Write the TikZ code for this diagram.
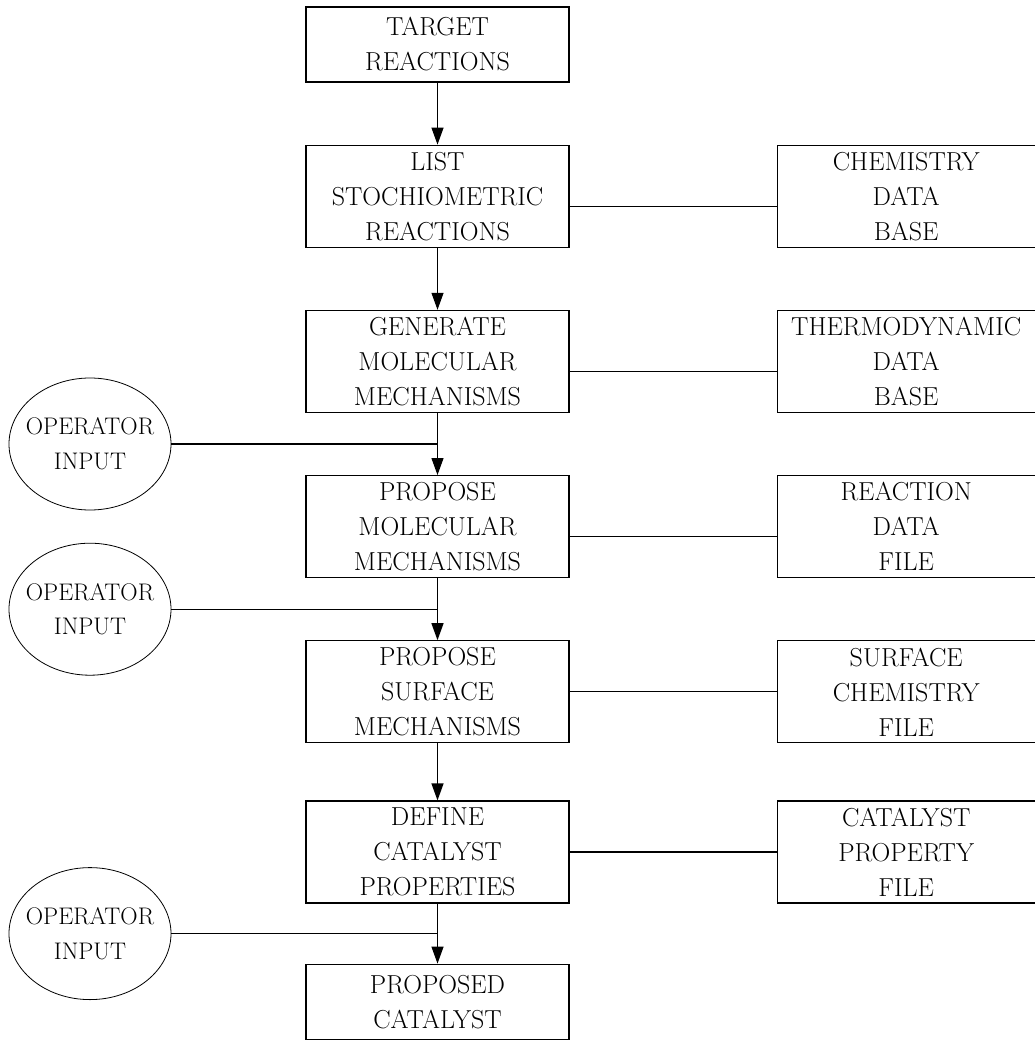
\documentclass[tikz,border=0pt]{standalone}
\usetikzlibrary{arrows.meta,shapes,positioning,calc}

\begin{document}
\begin{tikzpicture}
            [x=1pt,y=-1pt,>={Triangle[length=17pt,width=12pt]},line width=1.2pt,
             node distance=62pt,
             every node/.style={font=\fontsize{26}{35}\selectfont,align=center},
             procbox/.style={rectangle,draw,minimum width=263pt,minimum height=102pt,inner sep=0pt},
             filebox/.style={rectangle,draw,minimum width=258pt,minimum height=102pt,inner sep=0pt},
             opnode/.style={ellipse,draw,line width=0.8pt,minimum width=162pt,minimum height=132pt,
                            inner xsep=-16pt,inner ysep=0pt,font=\fontsize{24}{35}\selectfont}]

            \useasboundingbox (0,0) rectangle (1035,1041);

            % main column
            \node (target) [procbox,minimum height=75pt] at (437.5,44.5) {TARGET\\REACTIONS};
            \node (list) [procbox,below=of target] {LIST\\STOCHIOMETRIC\\REACTIONS};
            \node (gen) [procbox,below=of list] {GENERATE\\MOLECULAR\\MECHANISMS};
            \node (propmol) [procbox,below=of gen] {PROPOSE\\MOLECULAR\\MECHANISMS};
            \node (propsurf) [procbox,below=of propmol] {PROPOSE\\SURFACE\\MECHANISMS};
            \node (define) [procbox,below=57pt of propsurf] {DEFINE\\CATALYST\\PROPERTIES};
            \node (proposed) [procbox,minimum height=75pt,below=60pt of define] {PROPOSED\\CATALYST};

            % files
            \node (chem) [filebox,right=207pt of list] {CHEMISTRY\\DATA\\BASE};
            \node (thermo) [filebox,right=207pt of gen] {THERMODYNAMIC\\DATA\\BASE};
            \node (react) [filebox,right=207pt of propmol] {REACTION\\DATA\\FILE};
            \node (surf) [filebox,right=207pt of propsurf] {SURFACE\\CHEMISTRY\\FILE};
            \node (catprop) [filebox,right=207pt of define] {CATALYST\\PROPERTY\\FILE};

            % operator input
            \node (op1) [opnode,xshift=-347.5pt] at ($(gen.south)!.5!(propmol.north)$) {OPERATOR\\INPUT};
            \node (op2) [opnode,xshift=-347.5pt] at ($(propmol.south)!.5!(propsurf.north)$) {OPERATOR\\INPUT};
            \node (op3) [opnode,xshift=-347.5pt] at ($(define.south)!.5!(proposed.north)$) {OPERATOR\\INPUT};

            \draw[->] (target) -- (list);
            \draw[->] (list) -- (gen);
            \draw[->] (gen) -- (propmol);
            \draw[->] (propmol) -- (propsurf);
            \draw[->] (propsurf) -- (define);
            \draw[->] (define) -- (proposed);

            \draw ([yshift=-10pt]list.east) -- ([yshift=-10pt]chem.west);
            \draw ([yshift=-10pt]gen.east) -- ([yshift=-10pt]thermo.west);
            \draw ([yshift=-10pt]propmol.east) -- ([yshift=-10pt]react.west);
            \draw (propsurf) -- (surf);
            \draw (define) -- (catprop);

            \draw (op1) -- (op1 -| gen.south);
            \draw (op2) -- (op2 -| propmol.south);
            \draw (op3) -- (op3 -| define.south);
        \end{tikzpicture}
\end{document}
